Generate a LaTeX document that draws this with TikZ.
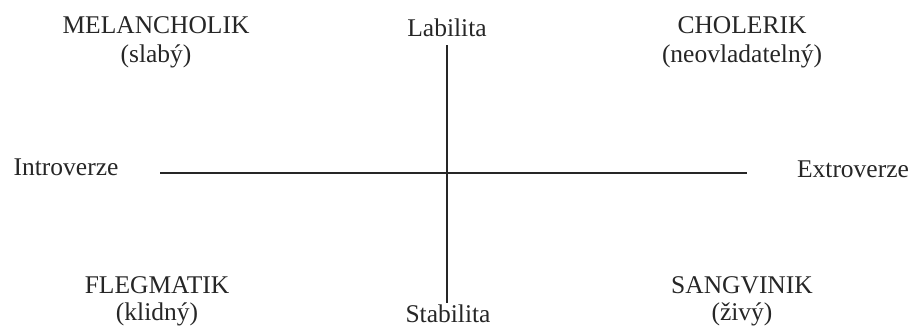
\documentclass[tikz,border=0pt]{standalone}
\usepackage{fontspec}
\setmainfont{Liberation Serif}
\begin{document}
\begin{tikzpicture}[x=1pt,y=-1pt,
  lbl/.style={font=\fontsize{25.5}{28}\selectfont, text=black!85, inner sep=0pt, anchor=base},
  axis/.style={line width=1.6pt, draw=black!85}]
\useasboundingbox (0,0) rectangle (912,327);
\node[lbl] (mel) at (156,33) {MELANCHOLIK};
\node[lbl] (mels) at (156,62) {(slabý)};
\node[lbl] (cho) at (742,33) {CHOLERIK};
\node[lbl] (chos) at (742,62) {(neovladatelný)};
\node[lbl] (fle) at (157,293) {FLEGMATIK};
\node[lbl] (fles) at (157,320) {(klidný)};
\node[lbl] (san) at (742,293) {SANGVINIK};
\node[lbl] (sans) at (742,320) {(živý)};
\node[lbl] (lab) at (447,36) {Labilita};
\node[lbl] (stab) at (448,322) {Stabilita};
\node[lbl] (intro) at (66,175) {Introverze};
\node[lbl] (extro) at (853,177) {Extroverze};
\coordinate (vt) at (447,45);
\coordinate (vb) at (447,303);
\coordinate (hl) at (160,173);
\coordinate (hr) at (747,173);
\draw[axis] (vt) -- (vb);
\draw[axis] (hl) -- (hr);
\end{tikzpicture}
\end{document}
